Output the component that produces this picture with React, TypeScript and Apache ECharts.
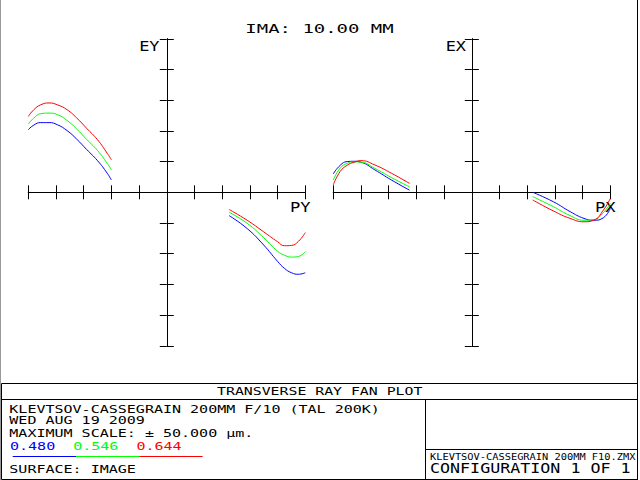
import React, { useEffect, useRef } from "react";
import * as echarts from "echarts";

// ---- Data ----
// Left panel: EY (µm) vs PY
const PY_SEG1 = [-1, -0.96, -0.91, -0.85, -0.79, -0.72, -0.65, -0.58, -0.5, -0.43, -0.4];
const EY1_BLUE = [20.4, 21.9, 22.7, 22.7, 22.0, 20.1, 17.3, 14.0, 10.3, 6.2, 4.0];
const EY1_GREEN = [22.2, 24.2, 25.6, 25.8, 25.3, 23.4, 20.6, 17.3, 13.6, 9.4, 7.3];
const EY1_RED = [24.7, 26.9, 28.5, 29.1, 28.5, 26.9, 24.2, 20.9, 17.1, 12.7, 10.6];

const PY_SEG2 = [0.45, 0.58, 0.7, 0.8, 0.85, 0.9, 0.95, 1.0];
const EY2_BLUE = [-7.6, -11.8, -17.2, -22.5, -24.8, -26.2, -26.7, -26.2];
const EY2_GREEN = [-6.5, -10.1, -14.8, -19.2, -20.5, -21.1, -20.9, -19.3];
const EY2_RED = [-5.6, -9.1, -12.9, -16.1, -17.4, -17.3, -16.0, -13.1];

// Right panel: EX (µm) vs PX
const PX_SEG1 = [-1, -0.95, -0.9, -0.85, -0.8, -0.7, -0.58, -0.45];
const EX1_BLUE = [6.0, 8.8, 10.0, 10.1, 9.8, 7.3, 4.0, 0.7];
const EX1_GREEN = [4.0, 7.9, 9.4, 9.9, 9.8, 7.8, 4.8, 1.8];
const EX1_RED = [2.4, 6.8, 8.8, 9.8, 10.3, 8.9, 6.2, 2.9];

const PX_SEG2 = [0.44, 0.59, 0.71, 0.81, 0.88, 0.95, 1.0];
const EX2_BLUE = [0.0, -3.1, -6.3, -8.5, -9.1, -8.3, -5.2];
const EX2_GREEN = [-1.4, -4.7, -7.6, -9.1, -8.9, -6.6, -3.6];
const EX2_RED = [-2.5, -6.1, -8.5, -9.6, -9.1, -5.8, -2.0];

const WAVELENGTHS = ["0.480", "0.546", "0.644"];
const COLORS = ["#0000ff", "#00ff00", "#ff0000"];

const TITLE = "IMA: 10.00 MM";
const PLOT_NAME = "TRANSVERSE RAY FAN PLOT";
const INFO_LINES = [
  "KLEVTSOV-CASSEGRAIN 200MM F/10 (TAL 200K)",
  "WED AUG 19 2009",
  "MAXIMUM SCALE: \u00b1 50.000 \u00b5m.",
];
const SURFACE = "SURFACE: IMAGE";
const FILE_NAME = "KLEVTSOV-CASSEGRAIN 200MM F10.ZMX";
const CONFIG = "CONFIGURATION 1 OF 1";

const zip = (xs: number[], ys: number[]) => xs.map((x, i) => [x, ys[i]]);

const FONT = '"DejaVu Sans Mono", monospace';

function txt(
  text: string,
  x: number,
  y: number,
  size: number,
  scaleX: number,
  align: string = "left",
  fill: string = "#000"
) {
  return {
    type: "text",
    x,
    y,
    scaleX,
    silent: true,
    style: {
      text,
      x: 0,
      y: 0,
      fill,
      fontSize: size,
      fontFamily: FONT,
      textAlign: align,
      textVerticalAlign: "middle",
      align,
      verticalAlign: "middle",
    },
  };
}

function ln(x1: number, y1: number, x2: number, y2: number, stroke = "#000") {
  return {
    type: "line",
    silent: true,
    shape: { x1, y1, x2, y2 },
    style: { stroke, lineWidth: 1 },
  };
}

const axisLineStyle = { color: "#000", width: 1 };

function xAx(grid: number, position: string, zeroIdx: number) {
  return {
    type: "value",
    gridIndex: grid,
    position,
    min: -1,
    max: 1,
    interval: 0.2,
    axisLine: { show: true, onZero: true, onZeroAxisIndex: zeroIdx, lineStyle: axisLineStyle },
    axisTick: { show: true, inside: false, length: 7, lineStyle: axisLineStyle },
    axisLabel: { show: false },
    splitLine: { show: false },
  };
}

function yAx(grid: number, position: string, zeroIdx: number) {
  return {
    type: "value",
    gridIndex: grid,
    position,
    min: -50,
    max: 50,
    interval: 10,
    axisLine: { show: true, onZero: true, onZeroAxisIndex: zeroIdx, lineStyle: axisLineStyle },
    axisTick: { show: true, inside: false, length: 7, lineStyle: axisLineStyle },
    axisLabel: { show: false },
    splitLine: { show: false },
  };
}

function seg(grid: number, data: number[][], color: string) {
  return {
    type: "line",
    xAxisIndex: grid * 2,
    yAxisIndex: grid * 2,
    data,
    smooth: 0.5,
    symbol: "none",
    lineStyle: { color, width: 1 },
    itemStyle: { color },
    silent: true,
    z: 3,
  };
}

export default function App() {
  const ref = useRef<HTMLDivElement>(null);

  useEffect(() => {
    if (!ref.current) return;
    const chart = echarts.init(ref.current, null, { renderer: "svg" });

    const leftSeries = [
      [zip(PY_SEG1, EY1_BLUE), zip(PY_SEG2, EY2_BLUE)],
      [zip(PY_SEG1, EY1_GREEN), zip(PY_SEG2, EY2_GREEN)],
      [zip(PY_SEG1, EY1_RED), zip(PY_SEG2, EY2_RED)],
    ];
    const rightSeries = [
      [zip(PX_SEG1, EX1_BLUE), zip(PX_SEG2, EX2_BLUE)],
      [zip(PX_SEG1, EX1_GREEN), zip(PX_SEG2, EX2_GREEN)],
      [zip(PX_SEG1, EX1_RED), zip(PX_SEG2, EX2_RED)],
    ];
    const series: any[] = [];
    leftSeries.forEach((segs, c) => segs.forEach((d) => series.push(seg(0, d, COLORS[c]))));
    rightSeries.forEach((segs, c) => segs.forEach((d) => series.push(seg(1, d, COLORS[c]))));

    const bf = 11;
    const bs = 1.366;
    const elements: any[] = [
      // frame
      ln(0.5, 0, 0.5, 480, "#999"),
      ln(637.5, 0, 637.5, 480),
      // bottom box
      ln(1.5, 383.5, 637.5, 383.5),
      ln(1.5, 399.5, 637.5, 399.5),
      ln(1.5, 479.5, 637.5, 479.5),
      ln(1.5, 383.5, 1.5, 479.5),
      ln(425.5, 399.5, 425.5, 479.5),
      ln(425.5, 449.5, 637.5, 449.5),
      // top title & axis names
      txt(TITLE, 319.5, 29.2, 11.5, 1.65, "center"),
      txt("EY", 159.5, 47, 13.5, 1.25, "right"),
      txt("PY", 310.5, 207.3, 14, 1.22, "right"),
      txt("EX", 466, 47, 13.5, 1.25, "right"),
      txt("PX", 615.5, 207.3, 14, 1.22, "right"),
      // bottom texts
      txt(PLOT_NAME, 319.7, 391.5, bf, 1.35, "center"),
      txt(INFO_LINES[0], 9.3, 409.5, bf, bs),
      txt(INFO_LINES[1], 9.3, 420.5, bf, bs),
      txt(INFO_LINES[2], 9.3, 433.3, bf, bs),
      txt(SURFACE, 9.3, 469.5, bf, bs),
      txt(FILE_NAME, 430, 456.8, 9, 1.15),
      txt(CONFIG, 430, 468.2, 14.5, 1.15),
    ];
    WAVELENGTHS.forEach((w, i) => {
      elements.push(txt(w, 10 + i * 63.2, 445.8, bf, bs, "left", COLORS[i]));
      elements.push(ln(12.7 + i * 63.3, 456.5, 76 + i * 63.3, 456.5, COLORS[i]));
    });

    chart.setOption({
      animation: false,
      backgroundColor: "#fff",
      grid: [
        { left: 28.3, top: 38.8, width: 277, height: 307 },
        { left: 333.3, top: 38.8, width: 277, height: 307 },
      ],
      xAxis: [xAx(0, "bottom", 0), xAx(0, "top", 0), xAx(1, "bottom", 2), xAx(1, "top", 2)],
      yAxis: [yAx(0, "left", 0), yAx(0, "right", 0), yAx(1, "left", 2), yAx(1, "right", 2)],
      series,
      graphic: { elements },
    });

    return () => chart.dispose();
  }, []);

  return (
    <div
      ref={ref}
      style={{ position: "fixed", left: 0, top: 0, width: 640, height: 480, background: "#fff" }}
    />
  );
}
